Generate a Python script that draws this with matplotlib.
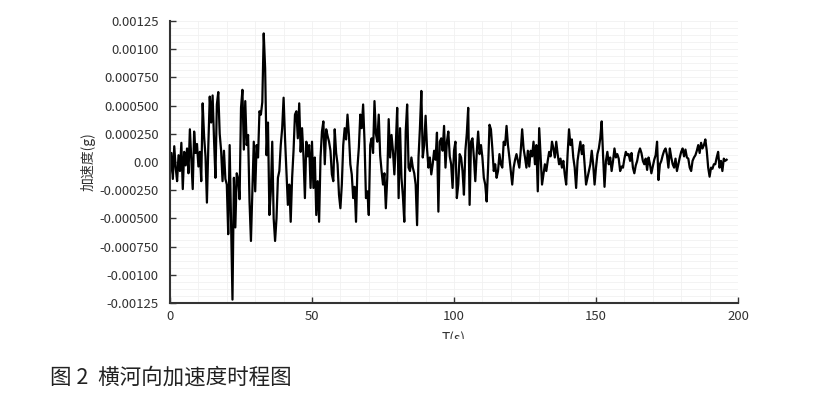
import numpy as np
import matplotlib
matplotlib.use("Agg")
from matplotlib import pyplot as plt
from matplotlib.patches import Rectangle

plt.rcParams['font.family'] = ['Noto Sans CJK SC', 'DejaVu Sans']

# acceleration record, sampled every 0.5 s, in units of 1e-4 g
DT = 0.5
acc_1e4 = [
  -1.0, 0.8, -1.5, 1.4, -0.5, -1.7, 0.6, -0.8, 1.7, -2.4,
  0.9, -0.3, 1.2, -1.0, 2.9, 0.2, -2.4, 2.7, 0.8, 1.6,
  -0.4, 0.9, -1.7, 5.2, 2.3, 0.5, -3.6, 1.5, 5.8, 3.5,
  5.9, 2.0, -1.4, 5.1, 6.2, 2.5, 1.0, -1.7, 1.0, -1.5,
  -2.0, -6.4, 1.5, -5.5, -12.2, -1.4, -5.8, -1.0, -1.5, -3.3,
  4.8, 6.4, 1.1, 5.4, 1.5, 2.4, -3.5, -7.0, -2.6, 1.8,
  -2.6, 1.5, 0.4, 4.5, 4.2, 5.3, 11.4, 8.3, 0.6, 3.5,
  -4.7, -2.6, 1.8, -5.0, -7.0, -5.0, -1.4, -0.8, 1.5, 3.0,
  5.7, 2.1, -0.8, -3.8, -2.0, -5.3, -1.4, 1.0, 4.2, 4.5,
  2.1, 5.2, 0.9, 3.0, 0.5, -3.2, 1.8, 0.5, 1.5, -2.3,
  1.8, -2.3, 0.4, -4.7, -1.7, -5.3, 0.4, 2.7, 3.6, -0.2,
  2.9, 2.3, 1.8, 1.0, -1.1, -1.7, 2.9, 0.8, -0.2, -2.9,
  -4.1, -2.0, 1.5, 3.0, 2.0, 4.2, 2.4, -0.2, -1.1, -3.2,
  -2.2, -5.3, -0.5, 1.3, 4.2, 3.0, 5.1, 1.8, -3.2, -2.6,
  -4.7, 1.5, 2.1, 0.8, 5.4, 2.5, 1.8, 4.2, 0.6, -0.8,
  -2.0, -1.0, -4.1, -1.4, 3.8, 0.4, 2.4, 1.0, -1.1, 1.5,
  4.8, -3.2, 3.0, -1.4, -3.0, -5.3, 2.7, 5.1, -0.5, -0.8,
  0.4, -0.5, -1.0, -2.0, -5.6, 0.4, 3.0, 6.3, 0.4, 1.5,
  4.1, 1.2, -0.5, 0.4, -1.1, -0.2, 1.0, 0.2, 2.6, -4.4,
  1.8, 2.1, 1.0, 3.2, -0.5, 1.8, 2.7, 0.5, -0.2, -2.3,
  1.0, 1.8, -3.2, -2.0, 0.7, 0.4, -0.8, -2.9, 1.0, 2.5,
  4.8, -3.8, 1.8, 2.1, 0.4, -1.7, 0.8, 2.7, 0.7, 1.5,
  0.4, -1.4, -2.0, -3.5, -0.5, 3.3, 2.9, 1.2, -0.8, -0.2,
  -1.4, -0.8, 0.7, -0.2, -0.5, 1.8, 1.5, 3.2, 1.5, 0.4,
  -0.8, -2.0, -0.5, 0.2, 0.7, 0.1, -0.5, 1.0, 2.9, 1.2,
  0.4, -0.5, 1.0, -0.4, 1.0, 0.5, 1.8, -0.2, 1.5, -2.6,
  3.0, 0.5, -2.0, -1.1, -0.2, -0.8, 0.1, 0.9, 0.5, 1.8,
  1.2, 0.4, 1.8, 0.7, -0.2, 0.3, -0.5, 0.1, -1.1, -2.0,
  0.7, 2.9, 1.5, 2.0, 0.4, -0.5, -2.3, 0.1, 1.0, 1.8,
  0.7, 1.5, -0.2, -2.0, -1.4, -0.8, -0.2, 1.0, -0.2, -2.0,
  -0.5, 0.7, 1.2, 2.1, 3.6, 0.5, -2.2, 0.1, 0.9, -0.2,
  0.4, -0.8, 0.1, 1.2, 0.4, 0.7, 0.3, -0.8, -0.4, -0.5,
  0.3, 0.9, 0.6, 0.7, 0.1, 0.8, -0.5, -1.0, -0.3, 0.1,
  0.8, 1.2, 0.8, 0.1, -0.2, 0.3, -0.7, 0.4, -0.2, -1.0,
  -0.4, 0.2, 0.6, 1.8, -1.6, -0.2, 0.1, 0.6, 1.0, 1.2,
  0.6, -0.5, 1.2, 0.4, -0.2, -0.5, 0.3, -0.8, -0.2, 0.4,
  0.9, 1.2, 0.5, 1.1, 0.4, 0.3, -0.5, -0.8, 0.1, 0.4,
  0.6, 1.0, 1.5, 0.8, 1.7, 1.2, 1.5, 2.0, 1.0, -0.5,
  -1.3, -0.5, -0.6, -0.2, -0.2, 0.4, 0.9, -0.5, 0.1, -0.8,
  0.3, 0.1, 0.2,
]

y_ticks = [0.00125, 0.00100, 0.000750, 0.000500, 0.000250, 0.0,
           -0.000250, -0.000500, -0.000750, -0.00100, -0.00125]
y_ticklabels = ["0.00125", "0.00100", "0.000750", "0.000500", "0.000250", "0.00",
                "-0.000250", "-0.000500", "-0.000750", "-0.00100", "-0.00125"]
x_ticks = [0, 50, 100, 150, 200]

acc = np.array(acc_1e4) * 1e-4
t = np.arange(len(acc)) * DT

fig = plt.figure(figsize=(8.14, 4.07), dpi=100)
ax = fig.add_axes([170/814., 1 - 303/407., 568/814., 282/407.])

ax.plot(t, acc, color="black", lw=1.6)

ax.set_xlim(0, 200)
ax.set_ylim(-0.00125, 0.00125)
ax.set_xticks(x_ticks)
ax.set_yticks(y_ticks)
ax.set_yticklabels(y_ticklabels)
ax.set_xticks(np.arange(0, 201, 10), minor=True)
ax.set_yticks(np.arange(-0.00125, 0.0012501, 0.0000625), minor=True)
ax.grid(which="both", color="#f1f1f1", lw=0.6)
ax.set_axisbelow(True)

for s in ["top", "right"]:
  ax.spines[s].set_visible(False)
for s in ["left", "bottom"]:
  ax.spines[s].set_color("#333333")
  ax.spines[s].set_linewidth(1.5)
ax.tick_params(which="major", direction="in", length=4, width=1, color="#333333",
               labelsize=9.5, labelcolor="#333333")
ax.tick_params(axis="y", which="major", pad=8)
ax.tick_params(axis="x", which="major", pad=5)
ax.tick_params(which="minor", length=0)

ax.set_xlabel("T(s)", fontsize=10, color="#333333", labelpad=6)
ax.set_ylabel("加速度(g)", fontsize=10, color="#333333", labelpad=3)

# the chart image is cut just under the x label
fig.patches.append(Rectangle((0, 0), 1, 1 - 339/407., transform=fig.transFigure,
                             facecolor="white", edgecolor="none", zorder=5))
fig.text(50/814., 1 - 378/407., "图 2  横河向加速度时程图", fontsize=15.5,
         fontweight="light", color="#222222", va="center", ha="left", zorder=6)

fig.savefig("out.png", dpi=100)
